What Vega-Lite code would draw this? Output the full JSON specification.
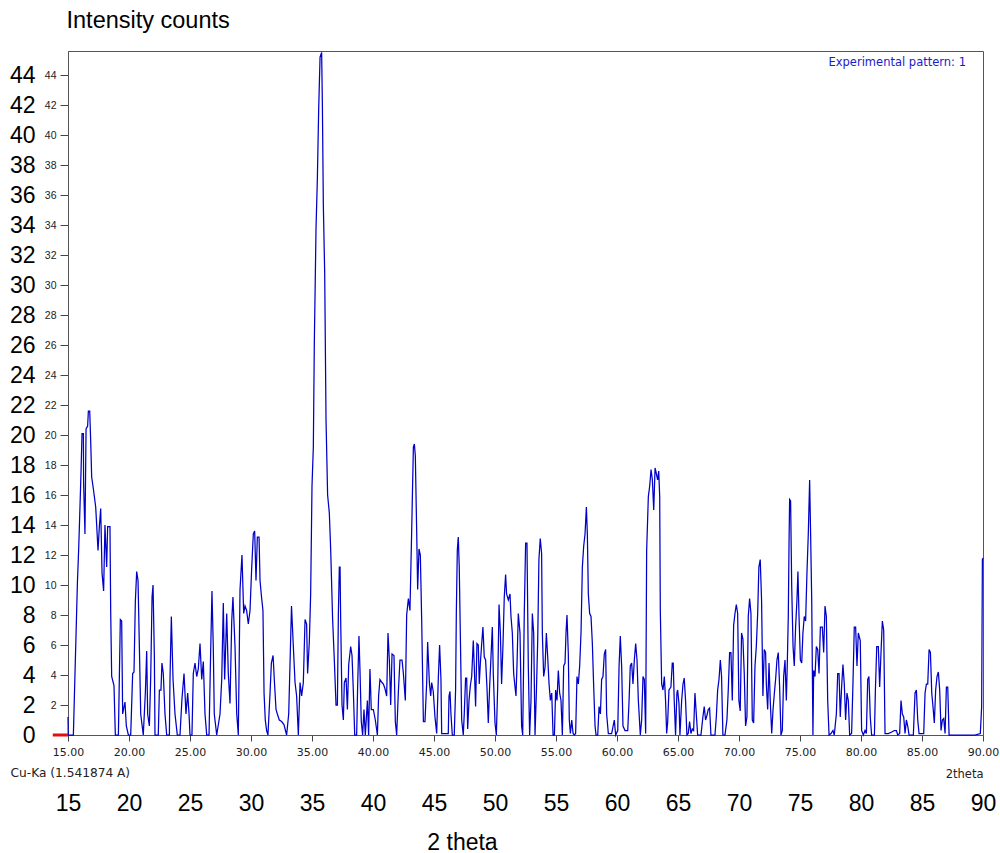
{
"$schema": "https://vega.github.io/schema/vega-lite/v6.json",
"width": 915,
"height": 684,
"autosize": {"type": "none"},
"padding": {"left": 68, "top": 51, "right": 17, "bottom": 118},
"background": "white",
"config": {"view": {"stroke": "#555555", "strokeWidth": 1}, "font": "Liberation Sans"},
"layer": [
{
"data": {"values": [
{"theta":15.00,"counts":1.2},{"theta":15.02,"counts":0},{"theta":15.44,"counts":0},{"theta":15.57,"counts":4.0},{"theta":15.77,"counts":10.1},{"theta":15.87,"counts":12.3},{"theta":15.93,"counts":13.8},{"theta":16.07,"counts":17.6},{"theta":16.15,"counts":20.1},{"theta":16.26,"counts":20.1},{"theta":16.28,"counts":16.8},{"theta":16.39,"counts":13.4},{"theta":16.48,"counts":20.4},{"theta":16.61,"counts":20.6},{"theta":16.67,"counts":21.6},{"theta":16.78,"counts":21.6},{"theta":16.86,"counts":19.6},{"theta":16.94,"counts":17.2},{"theta":17.08,"counts":16.4},{"theta":17.27,"counts":15.2},{"theta":17.35,"counts":14.0},{"theta":17.46,"counts":12.3},{"theta":17.57,"counts":13.9},{"theta":17.68,"counts":15.1},{"theta":17.79,"counts":10.8},{"theta":17.92,"counts":9.6},{"theta":18.03,"counts":14.0},{"theta":18.17,"counts":11.2},{"theta":18.25,"counts":13.9},{"theta":18.44,"counts":13.9},{"theta":18.50,"counts":8.2},{"theta":18.58,"counts":3.9},{"theta":18.77,"counts":3.3},{"theta":18.88,"counts":0},{"theta":19.13,"counts":0},{"theta":19.21,"counts":3.9},{"theta":19.29,"counts":7.7},{"theta":19.40,"counts":7.6},{"theta":19.48,"counts":1.4},{"theta":19.67,"counts":2.2},{"theta":19.78,"counts":0.6},{"theta":19.95,"counts":0},{"theta":20.14,"counts":0},{"theta":20.30,"counts":4.1},{"theta":20.41,"counts":4.2},{"theta":20.52,"counts":8.9},{"theta":20.63,"counts":10.9},{"theta":20.74,"counts":10.3},{"theta":20.85,"counts":5.9},{"theta":20.96,"counts":1.4},{"theta":21.17,"counts":0},{"theta":21.34,"counts":2.8},{"theta":21.45,"counts":5.6},{"theta":21.53,"counts":1.4},{"theta":21.67,"counts":0.6},{"theta":21.78,"counts":3.9},{"theta":21.89,"counts":9.2},{"theta":21.97,"counts":10.0},{"theta":22.08,"counts":5.2},{"theta":22.13,"counts":0},{"theta":22.40,"counts":0},{"theta":22.49,"counts":3.0},{"theta":22.62,"counts":3.0},{"theta":22.70,"counts":4.8},{"theta":22.81,"counts":4.1},{"theta":22.95,"counts":1.4},{"theta":23.09,"counts":0},{"theta":23.31,"counts":0},{"theta":23.36,"counts":3.7},{"theta":23.47,"counts":7.9},{"theta":23.61,"counts":3.7},{"theta":23.77,"counts":1.4},{"theta":23.96,"counts":0},{"theta":24.18,"counts":0},{"theta":24.34,"counts":2.4},{"theta":24.51,"counts":4.1},{"theta":24.67,"counts":1.4},{"theta":24.81,"counts":2.8},{"theta":24.92,"counts":1.4},{"theta":25.00,"counts":0},{"theta":25.16,"counts":0},{"theta":25.27,"counts":4.1},{"theta":25.41,"counts":4.8},{"theta":25.55,"counts":3.9},{"theta":25.68,"counts":4.4},{"theta":25.82,"counts":6.1},{"theta":25.96,"counts":3.7},{"theta":26.09,"counts":4.9},{"theta":26.23,"counts":1.4},{"theta":26.37,"counts":0},{"theta":26.56,"counts":0},{"theta":26.69,"counts":5.4},{"theta":26.80,"counts":9.6},{"theta":26.91,"counts":5.8},{"theta":26.99,"counts":1.4},{"theta":27.19,"counts":0},{"theta":27.46,"counts":1.4},{"theta":27.60,"counts":3.7},{"theta":27.73,"counts":8.8},{"theta":27.84,"counts":3.7},{"theta":28.01,"counts":8.1},{"theta":28.14,"counts":4.1},{"theta":28.28,"counts":2.1},{"theta":28.42,"counts":7.6},{"theta":28.52,"counts":9.2},{"theta":28.69,"counts":5.9},{"theta":28.83,"counts":1.4},{"theta":28.96,"counts":0},{"theta":29.10,"counts":9.7},{"theta":29.26,"counts":12.0},{"theta":29.40,"counts":8.1},{"theta":29.51,"counts":8.6},{"theta":29.64,"counts":8.3},{"theta":29.78,"counts":7.4},{"theta":29.92,"counts":8.3},{"theta":30.05,"counts":11.0},{"theta":30.19,"counts":13.4},{"theta":30.30,"counts":13.6},{"theta":30.41,"counts":10.3},{"theta":30.52,"counts":13.2},{"theta":30.66,"counts":13.2},{"theta":30.74,"counts":10.3},{"theta":30.85,"counts":9.3},{"theta":30.98,"counts":8.3},{"theta":31.07,"counts":2.8},{"theta":31.17,"counts":1.0},{"theta":31.28,"counts":0.3},{"theta":31.39,"counts":0},{"theta":31.56,"counts":2.8},{"theta":31.67,"counts":4.8},{"theta":31.81,"counts":5.3},{"theta":31.91,"counts":3.7},{"theta":32.05,"counts":1.7},{"theta":32.16,"counts":1.4},{"theta":32.32,"counts":1.0},{"theta":32.51,"counts":0.9},{"theta":32.70,"counts":0.7},{"theta":32.92,"counts":0},{"theta":33.09,"counts":1.4},{"theta":33.20,"counts":4.8},{"theta":33.32,"counts":8.6},{"theta":33.47,"counts":5.9},{"theta":33.61,"counts":3.5},{"theta":33.74,"counts":2.6},{"theta":33.88,"counts":0},{"theta":34.02,"counts":3.5},{"theta":34.15,"counts":2.6},{"theta":34.29,"counts":3.5},{"theta":34.43,"counts":7.7},{"theta":34.56,"counts":7.4},{"theta":34.64,"counts":4.1},{"theta":34.78,"counts":6.2},{"theta":34.89,"counts":9.4},{"theta":35.00,"counts":16.6},{"theta":35.11,"counts":19.2},{"theta":35.19,"counts":26.1},{"theta":35.33,"counts":33.8},{"theta":35.44,"counts":37.1},{"theta":35.55,"counts":41.8},{"theta":35.66,"counts":45.2},{"theta":35.79,"counts":45.5},{"theta":35.85,"counts":42.1},{"theta":35.93,"counts":35.3},{"theta":36.04,"counts":30.8},{"theta":36.15,"counts":21.0},{"theta":36.28,"counts":16.0},{"theta":36.42,"counts":14.8},{"theta":36.53,"counts":12.4},{"theta":36.69,"counts":7.7},{"theta":36.83,"counts":5.0},{"theta":36.97,"counts":2.0},{"theta":37.08,"counts":2.0},{"theta":37.16,"counts":8.0},{"theta":37.24,"counts":11.2},{"theta":37.30,"counts":11.2},{"theta":37.35,"counts":7.7},{"theta":37.46,"counts":2.0},{"theta":37.57,"counts":1.0},{"theta":37.65,"counts":3.5},{"theta":37.79,"counts":3.8},{"theta":37.90,"counts":1.7},{"theta":38.01,"counts":4.7},{"theta":38.17,"counts":5.9},{"theta":38.28,"counts":5.3},{"theta":38.39,"counts":2.9},{"theta":38.50,"counts":0},{"theta":38.66,"counts":0},{"theta":38.74,"counts":3.2},{"theta":38.85,"counts":6.6},{"theta":38.93,"counts":4.4},{"theta":39.04,"counts":0.9},{"theta":39.15,"counts":0},{"theta":39.26,"counts":1.7},{"theta":39.37,"counts":0},{"theta":39.54,"counts":2.3},{"theta":39.64,"counts":0},{"theta":39.75,"counts":4.4},{"theta":39.86,"counts":1.7},{"theta":40.03,"counts":1.7},{"theta":40.19,"counts":1.0},{"theta":40.36,"counts":0},{"theta":40.46,"counts":2.6},{"theta":40.57,"counts":3.7},{"theta":40.74,"counts":3.5},{"theta":40.85,"counts":3.4},{"theta":40.98,"counts":3.1},{"theta":41.12,"counts":2.6},{"theta":41.23,"counts":6.8},{"theta":41.34,"counts":5.0},{"theta":41.45,"counts":2.0},{"theta":41.56,"counts":5.4},{"theta":41.72,"counts":5.3},{"theta":41.83,"counts":0.9},{"theta":41.94,"counts":0},{"theta":42.08,"counts":2.9},{"theta":42.21,"counts":5.0},{"theta":42.38,"counts":5.0},{"theta":42.49,"counts":4.1},{"theta":42.65,"counts":2.3},{"theta":42.76,"counts":8.0},{"theta":42.90,"counts":9.1},{"theta":43.03,"counts":8.3},{"theta":43.17,"counts":13.6},{"theta":43.31,"counts":19.2},{"theta":43.39,"counts":19.4},{"theta":43.47,"counts":18.6},{"theta":43.58,"counts":13.6},{"theta":43.66,"counts":9.7},{"theta":43.77,"counts":12.4},{"theta":43.88,"counts":12.0},{"theta":43.99,"counts":7.7},{"theta":44.13,"counts":0.9},{"theta":44.26,"counts":0.9},{"theta":44.40,"counts":3.5},{"theta":44.48,"counts":6.2},{"theta":44.62,"counts":3.5},{"theta":44.73,"counts":2.6},{"theta":44.81,"counts":3.5},{"theta":44.94,"counts":2.9},{"theta":45.08,"counts":1.2},{"theta":45.22,"counts":0.1},{"theta":45.35,"counts":3.7},{"theta":45.46,"counts":6.0},{"theta":45.57,"counts":3.7},{"theta":45.63,"counts":0.1},{"theta":46.17,"counts":0.1},{"theta":46.23,"counts":2.6},{"theta":46.31,"counts":2.9},{"theta":46.39,"counts":1.4},{"theta":46.50,"counts":0},{"theta":46.66,"counts":0},{"theta":46.77,"counts":3.0},{"theta":46.83,"counts":8.1},{"theta":46.91,"counts":12.3},{"theta":46.99,"counts":13.2},{"theta":47.07,"counts":11.2},{"theta":47.16,"counts":6.6},{"theta":47.27,"counts":1.0},{"theta":47.40,"counts":0},{"theta":47.48,"counts":1.4},{"theta":47.59,"counts":3.8},{"theta":47.68,"counts":3.8},{"theta":47.76,"counts":0.4},{"theta":47.87,"counts":2.3},{"theta":47.98,"counts":3.3},{"theta":48.09,"counts":3.9},{"theta":48.22,"counts":6.3},{"theta":48.30,"counts":4.6},{"theta":48.41,"counts":1.9},{"theta":48.52,"counts":6.1},{"theta":48.63,"counts":6.0},{"theta":48.71,"counts":3.4},{"theta":48.80,"counts":4.8},{"theta":48.91,"counts":6.1},{"theta":49.01,"counts":7.2},{"theta":49.12,"counts":5.2},{"theta":49.23,"counts":5.0},{"theta":49.34,"counts":3.2},{"theta":49.45,"counts":0.8},{"theta":49.56,"counts":3.2},{"theta":49.67,"counts":5.2},{"theta":49.78,"counts":7.2},{"theta":49.86,"counts":4.1},{"theta":50.00,"counts":0.8},{"theta":50.11,"counts":0},{"theta":50.22,"counts":3.2},{"theta":50.33,"counts":8.7},{"theta":50.44,"counts":6.8},{"theta":50.54,"counts":3.4},{"theta":50.65,"counts":5.9},{"theta":50.76,"counts":9.2},{"theta":50.87,"counts":10.7},{"theta":50.95,"counts":9.4},{"theta":51.09,"counts":9.0},{"theta":51.23,"counts":9.4},{"theta":51.31,"counts":7.9},{"theta":51.42,"counts":6.8},{"theta":51.53,"counts":4.1},{"theta":51.64,"counts":3.2},{"theta":51.72,"counts":2.6},{"theta":51.80,"counts":4.6},{"theta":51.91,"counts":8.1},{"theta":52.05,"counts":6.8},{"theta":52.18,"counts":0.6},{"theta":52.27,"counts":0},{"theta":52.40,"counts":8.1},{"theta":52.51,"counts":12.8},{"theta":52.62,"counts":12.8},{"theta":52.73,"counts":4.6},{"theta":52.84,"counts":0},{"theta":52.95,"counts":2.3},{"theta":53.06,"counts":8.1},{"theta":53.17,"counts":6.8},{"theta":53.28,"counts":0},{"theta":53.39,"counts":2.8},{"theta":53.50,"counts":6.3},{"theta":53.60,"counts":11.7},{"theta":53.71,"counts":13.1},{"theta":53.82,"counts":12.1},{"theta":53.88,"counts":6.8},{"theta":53.99,"counts":3.9},{"theta":54.10,"counts":4.5},{"theta":54.21,"counts":6.8},{"theta":54.32,"counts":5.2},{"theta":54.43,"counts":3.4},{"theta":54.54,"counts":2.3},{"theta":54.65,"counts":2.8},{"theta":54.76,"counts":0},{"theta":54.87,"counts":0},{"theta":54.97,"counts":3.0},{"theta":55.08,"counts":2.3},{"theta":55.19,"counts":4.3},{"theta":55.30,"counts":2.8},{"theta":55.41,"counts":2.3},{"theta":55.52,"counts":0},{"theta":55.63,"counts":4.6},{"theta":55.74,"counts":4.8},{"theta":55.82,"counts":6.8},{"theta":55.90,"counts":8.0},{"theta":56.01,"counts":5.4},{"theta":56.09,"counts":1.0},{"theta":56.18,"counts":0.1},{"theta":56.29,"counts":1.0},{"theta":56.40,"counts":0.1},{"theta":56.50,"counts":0},{"theta":56.61,"counts":0.1},{"theta":56.72,"counts":3.9},{"theta":56.83,"counts":3.4},{"theta":56.94,"counts":4.6},{"theta":57.05,"counts":6.8},{"theta":57.16,"counts":11.2},{"theta":57.27,"counts":12.6},{"theta":57.38,"counts":13.4},{"theta":57.49,"counts":15.2},{"theta":57.57,"counts":13.4},{"theta":57.65,"counts":9.4},{"theta":57.76,"counts":8.1},{"theta":57.87,"counts":7.9},{"theta":57.98,"counts":6.1},{"theta":58.09,"counts":3.2},{"theta":58.20,"counts":0.6},{"theta":58.28,"counts":0},{"theta":58.42,"counts":0},{"theta":58.53,"counts":1.9},{"theta":58.64,"counts":1.4},{"theta":58.74,"counts":3.7},{"theta":58.85,"counts":3.9},{"theta":58.96,"counts":5.4},{"theta":59.07,"counts":5.7},{"theta":59.15,"counts":1.4},{"theta":59.29,"counts":0.1},{"theta":59.56,"counts":0.1},{"theta":59.78,"counts":1.0},{"theta":59.89,"counts":0},{"theta":60.06,"counts":0.3},{"theta":60.17,"counts":4.6},{"theta":60.27,"counts":6.6},{"theta":60.38,"counts":4.6},{"theta":60.49,"counts":0.6},{"theta":60.66,"counts":0.3},{"theta":60.88,"counts":0.3},{"theta":60.99,"counts":2.3},{"theta":61.09,"counts":4.6},{"theta":61.20,"counts":4.8},{"theta":61.31,"counts":3.4},{"theta":61.42,"counts":5.0},{"theta":61.53,"counts":6.1},{"theta":61.64,"counts":5.0},{"theta":61.75,"counts":2.3},{"theta":61.91,"counts":0},{"theta":62.02,"counts":1.0},{"theta":62.13,"counts":3.9},{"theta":62.24,"counts":3.7},{"theta":62.35,"counts":0.1},{"theta":62.43,"counts":12.3},{"theta":62.57,"counts":15.9},{"theta":62.68,"counts":16.6},{"theta":62.79,"counts":17.7},{"theta":62.90,"counts":17.0},{"theta":63.01,"counts":15.0},{"theta":63.12,"counts":17.8},{"theta":63.23,"counts":17.4},{"theta":63.33,"counts":17.0},{"theta":63.42,"counts":17.6},{"theta":63.50,"counts":15.9},{"theta":63.55,"counts":8.3},{"theta":63.66,"counts":3.4},{"theta":63.77,"counts":3.0},{"theta":63.88,"counts":3.9},{"theta":63.98,"counts":2.3},{"theta":64.07,"counts":0.1},{"theta":64.15,"counts":0.8},{"theta":64.26,"counts":3.0},{"theta":64.42,"counts":3.2},{"theta":64.53,"counts":4.8},{"theta":64.61,"counts":4.8},{"theta":64.69,"counts":2.3},{"theta":64.80,"counts":0},{"theta":64.91,"counts":2.8},{"theta":64.97,"counts":3.0},{"theta":65.08,"counts":2.1},{"theta":65.16,"counts":0},{"theta":65.30,"counts":2.3},{"theta":65.41,"counts":3.4},{"theta":65.51,"counts":3.8},{"theta":65.62,"counts":2.3},{"theta":65.73,"counts":0},{"theta":65.84,"counts":0.1},{"theta":65.95,"counts":0.9},{"theta":66.06,"counts":0.1},{"theta":66.17,"counts":0.4},{"theta":66.28,"counts":0.3},{"theta":66.39,"counts":2.8},{"theta":66.50,"counts":1.4},{"theta":66.61,"counts":0},{"theta":66.88,"counts":0},{"theta":67.04,"counts":1.2},{"theta":67.15,"counts":1.9},{"theta":67.26,"counts":1.0},{"theta":67.37,"counts":1.3},{"theta":67.48,"counts":1.7},{"theta":67.59,"counts":1.8},{"theta":67.70,"counts":0},{"theta":68.03,"counts":0},{"theta":68.14,"counts":1.2},{"theta":68.25,"counts":3.0},{"theta":68.36,"counts":3.7},{"theta":68.47,"counts":5.0},{"theta":68.57,"counts":3.9},{"theta":68.68,"counts":0},{"theta":68.85,"counts":0},{"theta":69.01,"counts":1.0},{"theta":69.12,"counts":3.0},{"theta":69.23,"counts":5.5},{"theta":69.34,"counts":5.5},{"theta":69.45,"counts":2.3},{"theta":69.56,"counts":7.3},{"theta":69.67,"counts":8.1},{"theta":69.78,"counts":8.7},{"theta":69.89,"counts":8.1},{"theta":69.99,"counts":2.3},{"theta":70.10,"counts":1.6},{"theta":70.21,"counts":6.8},{"theta":70.32,"counts":6.4},{"theta":70.43,"counts":4.1},{"theta":70.54,"counts":0.6},{"theta":70.65,"counts":1.2},{"theta":70.76,"counts":7.9},{"theta":70.87,"counts":9.1},{"theta":70.98,"counts":8.1},{"theta":71.09,"counts":1.0},{"theta":71.20,"counts":0.8},{"theta":71.31,"counts":4.6},{"theta":71.42,"counts":5.9},{"theta":71.53,"counts":8.1},{"theta":71.63,"counts":11.2},{"theta":71.74,"counts":11.7},{"theta":71.85,"counts":9.0},{"theta":71.96,"counts":2.6},{"theta":72.07,"counts":5.7},{"theta":72.18,"counts":5.5},{"theta":72.24,"counts":3.4},{"theta":72.35,"counts":1.7},{"theta":72.46,"counts":4.8},{"theta":72.57,"counts":2.1},{"theta":72.68,"counts":0.1},{"theta":72.79,"counts":1.7},{"theta":72.90,"counts":2.8},{"theta":73.00,"counts":3.7},{"theta":73.11,"counts":5.0},{"theta":73.22,"counts":5.5},{"theta":73.33,"counts":3.2},{"theta":73.44,"counts":0},{"theta":73.55,"counts":0.3},{"theta":73.66,"counts":3.9},{"theta":73.77,"counts":5.0},{"theta":73.88,"counts":2.3},{"theta":73.96,"counts":4.8},{"theta":74.04,"counts":7.9},{"theta":74.10,"counts":12.7},{"theta":74.15,"counts":15.7},{"theta":74.23,"counts":15.6},{"theta":74.32,"counts":9.9},{"theta":74.43,"counts":5.9},{"theta":74.53,"counts":4.6},{"theta":74.64,"counts":7.2},{"theta":74.75,"counts":9.0},{"theta":74.83,"counts":10.9},{"theta":74.92,"counts":7.9},{"theta":75.03,"counts":5.0},{"theta":75.14,"counts":4.8},{"theta":75.24,"counts":6.8},{"theta":75.35,"counts":7.9},{"theta":75.46,"counts":7.6},{"theta":75.57,"counts":10.8},{"theta":75.68,"counts":13.4},{"theta":75.79,"counts":17.0},{"theta":75.87,"counts":13.4},{"theta":75.96,"counts":9.0},{"theta":76.06,"counts":0},{"theta":76.12,"counts":4.3},{"theta":76.23,"counts":3.9},{"theta":76.34,"counts":5.9},{"theta":76.45,"counts":5.7},{"theta":76.56,"counts":4.1},{"theta":76.67,"counts":7.2},{"theta":76.83,"counts":7.2},{"theta":76.94,"counts":5.5},{"theta":77.05,"counts":8.6},{"theta":77.16,"counts":7.9},{"theta":77.27,"counts":2.3},{"theta":77.38,"counts":0},{"theta":77.54,"counts":0.1},{"theta":77.70,"counts":0.3},{"theta":77.81,"counts":0},{"theta":77.98,"counts":1.4},{"theta":78.09,"counts":4.1},{"theta":78.20,"counts":4.1},{"theta":78.30,"counts":1.2},{"theta":78.41,"counts":3.2},{"theta":78.52,"counts":4.7},{"theta":78.63,"counts":3.4},{"theta":78.74,"counts":1.0},{"theta":78.85,"counts":2.8},{"theta":78.96,"counts":2.3},{"theta":79.07,"counts":0},{"theta":79.23,"counts":0.1},{"theta":79.34,"counts":3.4},{"theta":79.45,"counts":7.2},{"theta":79.56,"counts":7.2},{"theta":79.67,"counts":4.6},{"theta":79.78,"counts":6.8},{"theta":79.94,"counts":6.3},{"theta":80.05,"counts":0.3},{"theta":80.19,"counts":0},{"theta":80.33,"counts":0.3},{"theta":80.44,"counts":0.1},{"theta":80.55,"counts":3.7},{"theta":80.65,"counts":3.9},{"theta":80.76,"counts":1.2},{"theta":80.87,"counts":0},{"theta":81.10,"counts":0},{"theta":81.18,"counts":3.0},{"theta":81.29,"counts":5.9},{"theta":81.42,"counts":5.9},{"theta":81.53,"counts":3.2},{"theta":81.64,"counts":5.5},{"theta":81.75,"counts":7.6},{"theta":81.86,"counts":7.0},{"theta":81.97,"counts":0.1},{"theta":82.24,"counts":0.1},{"theta":82.52,"counts":0.2},{"theta":82.73,"counts":0.3},{"theta":82.90,"counts":0.3},{"theta":83.01,"counts":0},{"theta":83.17,"counts":0.1},{"theta":83.28,"counts":2.3},{"theta":83.39,"counts":1.4},{"theta":83.50,"counts":1.2},{"theta":83.61,"counts":0.1},{"theta":83.72,"counts":1.0},{"theta":83.83,"counts":0.6},{"theta":83.94,"counts":0},{"theta":84.29,"counts":0},{"theta":84.43,"counts":2.8},{"theta":84.54,"counts":3.0},{"theta":84.65,"counts":1.0},{"theta":84.76,"counts":0.1},{"theta":85.14,"counts":0.1},{"theta":85.25,"counts":2.8},{"theta":85.36,"counts":3.4},{"theta":85.47,"counts":3.4},{"theta":85.58,"counts":5.7},{"theta":85.69,"counts":5.5},{"theta":85.80,"counts":2.8},{"theta":85.90,"counts":1.9},{"theta":86.01,"counts":0.8},{"theta":86.12,"counts":3.0},{"theta":86.23,"counts":3.9},{"theta":86.34,"counts":4.2},{"theta":86.45,"counts":3.0},{"theta":86.56,"counts":0.3},{"theta":86.67,"counts":1.0},{"theta":86.78,"counts":1.1},{"theta":86.89,"counts":0.1},{"theta":87.00,"counts":3.2},{"theta":87.11,"counts":3.2},{"theta":87.22,"counts":0},{"theta":89.35,"counts":0},{"theta":89.78,"counts":0.1},{"theta":89.89,"counts":1.9},{"theta":89.95,"counts":11.7},{"theta":90.00,"counts":11.8}
]},
"mark": {"type": "line", "strokeWidth": 1.25, "interpolate": "linear"},
"encoding": {
"x": {"field": "theta", "type": "quantitative",
"scale": {"domain": [15, 90], "nice": false, "zero": false},
"axis": {"orient": "bottom", "values": [15,20,25,30,35,40,45,50,55,60,65,70,75,80,85,90], "format": ".2f", "grid": false,
"labelFont": "DejaVu Sans", "labelFontSize": 11, "labelColor": "#222222", "labelPadding": 5, "labelOverlap": false, "labelFlush": false,
"tickSize": 6, "tickColor": "#444444", "domainColor": "#555555",
"title": "2theta", "titleFont": "DejaVu Sans", "titleFontSize": 11.5, "titleFontWeight": "normal", "titleColor": "#222222",
"titleAlign": "right", "titleBaseline": "alphabetic", "titleX": 915, "titleY": 42}},
"y": {"field": "counts", "type": "quantitative",
"scale": {"domain": [0, 45.6], "nice": false, "zero": true},
"axis": {"orient": "left", "values": [2,4,6,8,10,12,14,16,18,20,22,24,26,28,30,32,34,36,38,40,42,44], "grid": false,
"labelFont": "Liberation Sans", "labelFontSize": 10.5, "labelColor": "#222222", "labelPadding": 4, "labelOverlap": false, "labelFlush": false,
"tickSize": 8, "tickColor": "#444444", "domainColor": "#555555",
"title": "Cu-Ka (1.541874 A)", "titleAngle": 0, "titleAlign": "left", "titleBaseline": "alphabetic", "titleX": -58, "titleY": 725,
"titleFont": "DejaVu Sans", "titleFontSize": 12.2, "titleFontWeight": "normal", "titleColor": "#222222"}},
"color": {"datum": "Experimental pattern: 1", "type": "nominal",
"scale": {"range": ["#0000c8"]},
"legend": {"orient": "none", "legendX": 749, "legendY": 6, "title": null, "symbolSize": 0, "symbolStrokeWidth": 0, "symbolOpacity": 0,
"labelOffset": 0, "padding": 0, "labelFont": "DejaVu Sans", "labelFontSize": 11.5, "labelColor": "#1a1acc"}}
}
},
{
"data": {"values": [{"start": 13.75, "end": 15, "level": 0}]},
"mark": {"type": "rule", "color": "#e01010", "strokeWidth": 3},
"encoding": {
"x": {"field": "start", "type": "quantitative",
"scale": {"domain": [15, 90], "nice": false, "zero": false},
"axis": {"orient": "bottom", "values": [15,20,25,30,35,40,45,50,55,60,65,70,75,80,85,90], "format": "d", "grid": false,
"domain": false, "ticks": false, "tickSize": 0,
"labelFont": "Liberation Sans", "labelFontSize": 23, "labelColor": "#000000", "labelPadding": 57, "labelOverlap": false, "labelFlush": false,
"title": "2 theta", "titleFont": "Liberation Sans", "titleFontSize": 23, "titleFontWeight": "normal", "titleColor": "#000000",
"titleAlign": "center", "titleBaseline": "alphabetic", "titleX": 394, "titleY": 114}},
"x2": {"field": "end"},
"y": {"field": "level", "type": "quantitative",
"scale": {"domain": [0, 45.6], "nice": false, "zero": true},
"axis": {"orient": "left", "values": [0,2,4,6,8,10,12,14,16,18,20,22,24,26,28,30,32,34,36,38,40,42,44], "format": "d", "grid": false,
"domain": false, "ticks": false, "tickSize": 0,
"labelFont": "Liberation Sans", "labelFontSize": 23, "labelColor": "#000000", "labelPadding": 33, "labelOverlap": false, "labelFlush": false,
"title": "Intensity counts", "titleAngle": 0, "titleAlign": "left", "titleBaseline": "alphabetic", "titleX": -2, "titleY": -24,
"titleFont": "Liberation Sans", "titleFontSize": 23.5, "titleFontWeight": "normal", "titleColor": "#000000"}}
}
}
],
"resolve": {"axis": {"x": "independent", "y": "independent"}}
}
